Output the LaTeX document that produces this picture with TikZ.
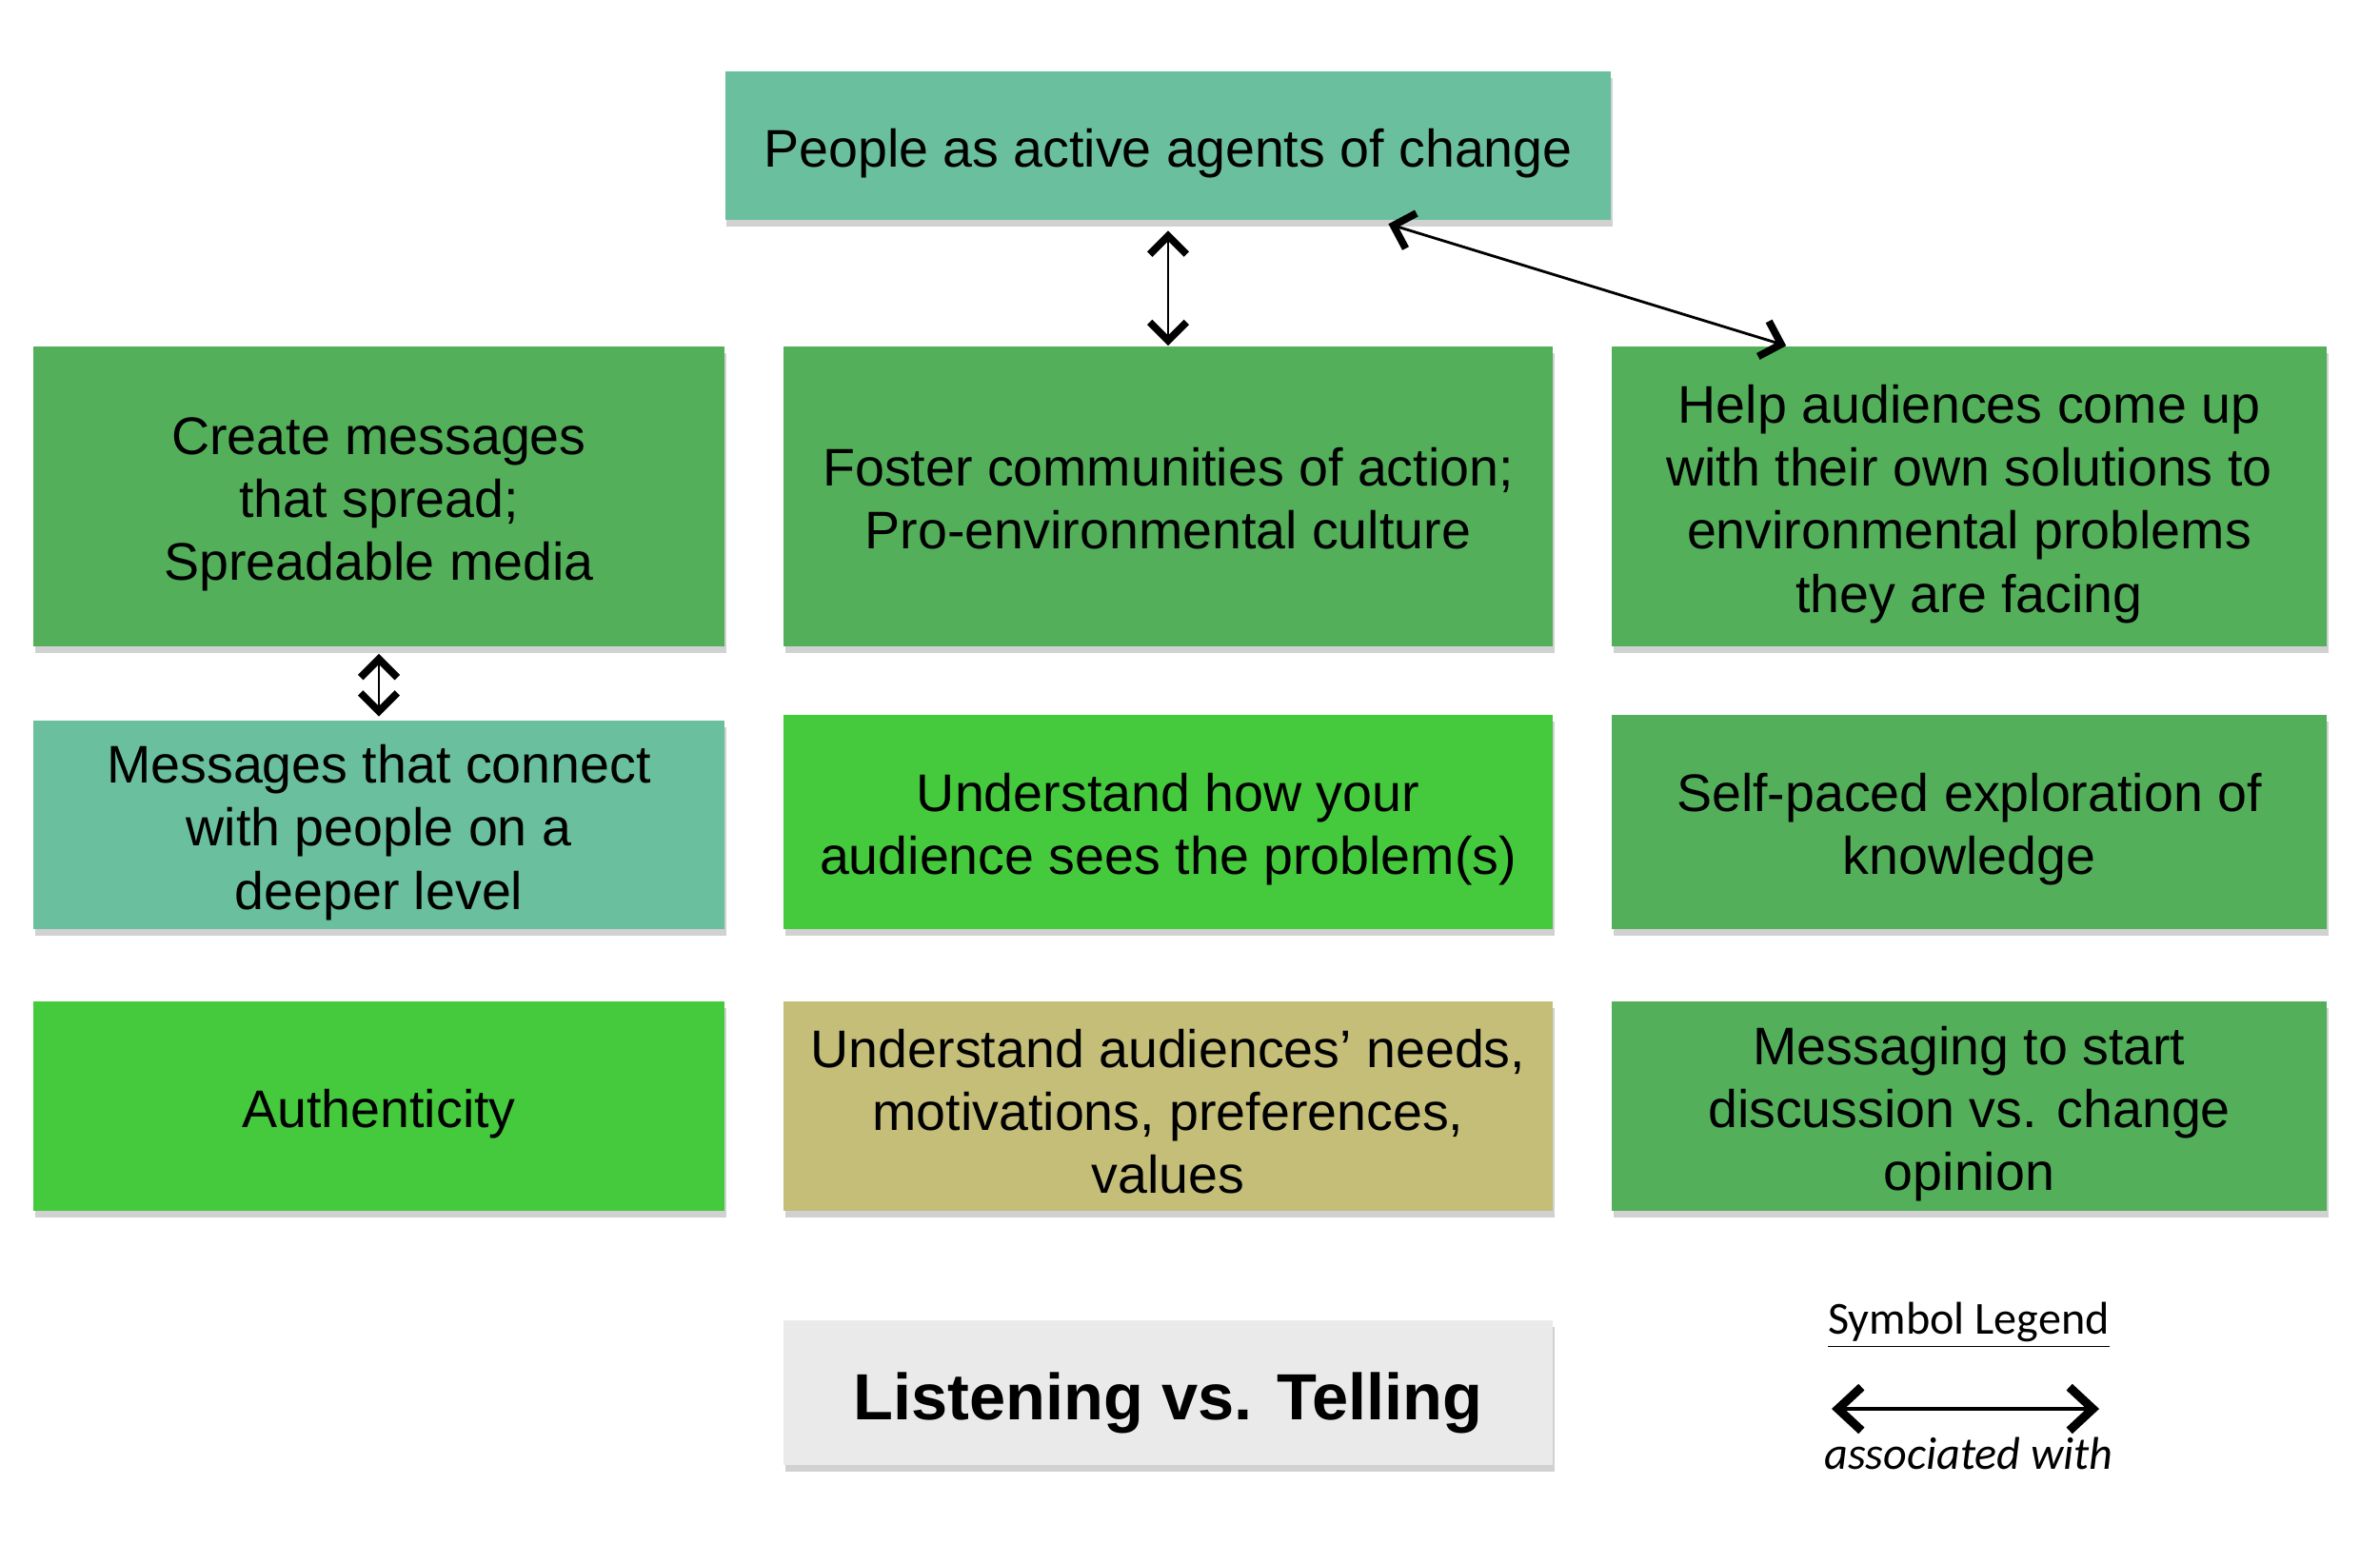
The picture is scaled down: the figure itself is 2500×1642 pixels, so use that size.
\documentclass[tikz,border=0pt]{standalone}
\usepackage{fontspec}
\setmainfont{Liberation Sans}
\newfontfamily\legendfont{Carlito}
\usetikzlibrary{shadows,arrows.meta}
\definecolor{teal1}{HTML}{69BF9E}
\definecolor{green1}{HTML}{53AF5A}
\definecolor{green2}{HTML}{45C93D}
\definecolor{khaki1}{HTML}{C4BE78}
\definecolor{gray1}{HTML}{EAEAEA}
\tikzset{
  boxnode/.style={rectangle, inner sep=0pt,
    drop shadow={shadow xshift=0.5pt, shadow yshift=-2pt, opacity=0.3, fill=black!60}},
  boxtext/.style={inner sep=0pt, align=center, font=\fontsize{15.8}{18.8}\selectfont},
  assoc/.style={line width=0.8pt, {Straight Barb[length=5.5pt,width=11pt,line width=2.2pt]}-{Straight Barb[length=5.5pt,width=11pt,line width=2.2pt]}},
}
\begin{document}
\begin{tikzpicture}[x=0.01cm,y=-0.01cm]
\useasboundingbox (0,0) rectangle (2500,1642);
\node[boxnode, fill=teal1, minimum width=9.30cm, minimum height=1.56cm] (top) at (1227,153) {};
\node[boxnode, fill=green1, minimum width=7.26cm, minimum height=3.15cm] (r1c1) at (398,521.5) {};
\node[boxnode, fill=green1, minimum width=8.08cm, minimum height=3.15cm] (r1c2) at (1227,521.5) {};
\node[boxnode, fill=green1, minimum width=7.51cm, minimum height=3.15cm] (r1c3) at (2068.5,521.5) {};
\node[boxnode, fill=teal1, minimum width=7.26cm, minimum height=2.19cm] (r2c1) at (398,866.5) {};
\node[boxnode, fill=green2, minimum width=8.08cm, minimum height=2.25cm] (r2c2) at (1227,863.5) {};
\node[boxnode, fill=green1, minimum width=7.51cm, minimum height=2.25cm] (r2c3) at (2068.5,863.5) {};
\node[boxnode, fill=green2, minimum width=7.26cm, minimum height=2.20cm] (r3c1) at (398,1162) {};
\node[boxnode, fill=khaki1, minimum width=8.08cm, minimum height=2.20cm] (r3c2) at (1227,1162) {};
\node[boxnode, fill=green1, minimum width=7.51cm, minimum height=2.20cm] (r3c3) at (2068.5,1162) {};
\node[boxnode, fill=gray1, minimum width=8.08cm, minimum height=1.52cm] (listen) at (1227,1463) {};
% texts
\node[boxtext] (ttop) at ([yshift=-0.08cm]top.center) {People as active agents of change};
\node[boxtext] (tr1c1) at ([yshift=-0.08cm]r1c1.center) {Create messages\\that spread;\\Spreadable media};
\node[boxtext] (tr1c2) at ([yshift=-0.02cm]r1c2.center) {Foster communities of action;\\Pro-environmental culture};
\node[boxtext] (tr1c3) at ([yshift=-0.08cm]r1c3.center) {Help audiences come up\\with their own solutions to\\environmental problems\\they are facing};
\node[boxtext] (tr2c1) at ([yshift=-0.08cm]r2c1.center) {Messages that connect\\with people on a\\deeper level};
\node[boxtext] (tr2c2) at ([yshift=-0.08cm]r2c2.center) {Understand how your\\audience sees the problem(s)};
\node[boxtext] (tr2c3) at ([yshift=-0.08cm]r2c3.center) {Self-paced exploration of\\knowledge};
\node[boxtext] (tr3c1) at ([yshift=-0.08cm]r3c1.center) {Authenticity};
\node[boxtext] (tr3c2) at ([yshift=-0.06cm]r3c2.center) {Understand audiences’ needs,\\motivations, preferences,\\values};
\node[boxtext] (tr3c3) at ([yshift=-0.08cm]r3c3.center) {Messaging to start\\discussion vs. change\\opinion};
\node[boxtext, font=\fontsize{19.5}{23}\selectfont\bfseries] (tlisten) at ([yshift=-0.11cm]listen.center) {Listening vs. Telling};
% connectors
\draw[assoc] ([yshift=-3pt]top.south) -- (r1c2.north);
\draw[assoc] ([xshift=6.97cm,yshift=-1pt]top.south west) -- ([xshift=1.84cm]r1c3.north west);
\draw[assoc] ([yshift=-2pt]r1c1.south) -- ([yshift=1pt]r2c1.north);
% legend
\node[font=\legendfont\fontsize{13.7}{16}\selectfont, inner sep=0pt] (legtitle) at (2068,1392) {\underline{Symbol Legend}};
\coordinate (la) at (1924,1480);
\coordinate (lb) at (2205,1480);
\draw[line width=0.9pt, {Straight Barb[length=7pt,width=13pt,line width=2.6pt]}-{Straight Barb[length=7pt,width=13pt,line width=2.6pt]}] (la) -- (lb);
\node[font=\legendfont\itshape\fontsize{13.7}{16}\selectfont, inner sep=0pt] (legtext) at (2068,1527) {associated with};
\end{tikzpicture}
\end{document}
